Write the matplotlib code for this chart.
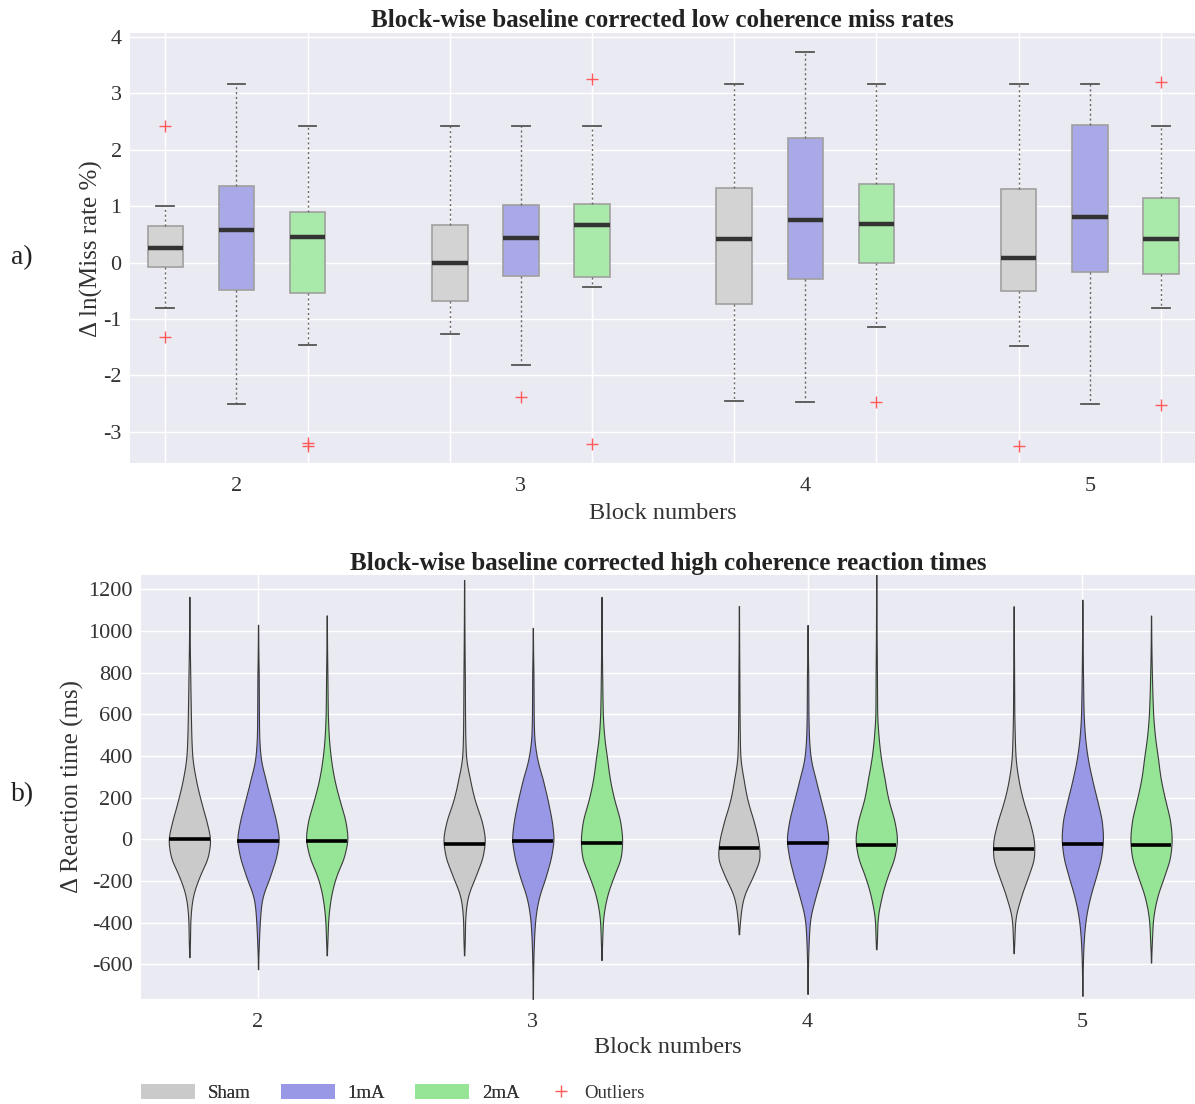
import numpy as np
import matplotlib
matplotlib.use("Agg")
import matplotlib.pyplot as plt
from matplotlib.patches import Patch
from matplotlib.lines import Line2D

plt.rcParams['font.family'] = ['Liberation Serif', 'DejaVu Serif']
plt.rcParams['axes.unicode_minus'] = False

# ---------------------------------------------------------------- data
blocks = [2, 3, 4, 5]
conditions = ["Sham", "1mA", "2mA"]

# a) low-coherence miss rates: box statistics per condition, blocks 2..5
miss_whislo = {"Sham": [-0.81, -1.27, -2.45, -1.48],
               "1mA": [-2.51, -1.82, -2.48, -2.51],
               "2mA": [-1.46, -0.44, -1.14, -0.81]}
miss_q1 = {"Sham": [-0.07, -0.69, -0.74, -0.50],
           "1mA": [-0.48, -0.24, -0.30, -0.17],
           "2mA": [-0.54, -0.25, 0.00, -0.20]}
miss_med = {"Sham": [0.25, -0.01, 0.41, 0.08],
            "1mA": [0.57, 0.43, 0.76, 0.81],
            "2mA": [0.45, 0.67, 0.69, 0.42]}
miss_q3 = {"Sham": [0.65, 0.66, 1.33, 1.31],
           "1mA": [1.36, 1.02, 2.21, 2.44],
           "2mA": [0.89, 1.04, 1.40, 1.15]}
miss_whishi = {"Sham": [1.00, 2.43, 3.17, 3.17],
               "1mA": [3.17, 2.43, 3.74, 3.17],
               "2mA": [2.43, 2.43, 3.17, 2.43]}
miss_outliers = {"Sham": [[2.43, -1.32], [], [], [-3.25]],
                 "1mA": [[], [-2.39], [], []],
                 "2mA": [[-3.20, -3.26], [3.25, -3.21], [-2.48], [3.21, -2.52]]}

# b) high-coherence reaction times: density profile (relative width) at fixed levels
rt_levels = [-500, -400, -300, -200, -100, 0, 100, 200, 300, 400, 500, 600, 800]
rt_width = {
    "Sham": [
        [0.03, 0.04, 0.12, 0.40, 0.85, 1.00, 0.77, 0.50, 0.28, 0.13, 0.09, 0.07, 0.04],
        [0.03, 0.04, 0.12, 0.45, 0.82, 0.97, 0.78, 0.45, 0.25, 0.08, 0.05, 0.04, 0.03],
        [0.00, 0.05, 0.16, 0.56, 0.96, 0.88, 0.64, 0.36, 0.20, 0.06, 0.04, 0.03, 0.02],
        [0.03, 0.06, 0.28, 0.60, 0.94, 0.94, 0.70, 0.40, 0.20, 0.08, 0.05, 0.03, 0.02]],
    "1mA": [
        [0.04, 0.08, 0.16, 0.50, 0.82, 1.00, 0.82, 0.57, 0.33, 0.11, 0.05, 0.04, 0.03],
        [0.05, 0.10, 0.24, 0.56, 0.84, 1.00, 0.88, 0.68, 0.45, 0.18, 0.06, 0.04, 0.03],
        [0.05, 0.10, 0.32, 0.60, 0.85, 1.00, 0.85, 0.60, 0.36, 0.13, 0.06, 0.04, 0.03],
        [0.06, 0.14, 0.32, 0.60, 0.88, 1.00, 0.92, 0.68, 0.44, 0.24, 0.12, 0.06, 0.03]],
    "2mA": [
        [0.03, 0.06, 0.16, 0.37, 0.78, 1.00, 0.86, 0.57, 0.33, 0.18, 0.09, 0.05, 0.03],
        [0.03, 0.06, 0.20, 0.50, 0.90, 0.98, 0.86, 0.57, 0.37, 0.25, 0.12, 0.06, 0.03],
        [0.03, 0.05, 0.20, 0.45, 0.82, 0.98, 0.82, 0.53, 0.37, 0.20, 0.10, 0.04, 0.03],
        [0.04, 0.08, 0.24, 0.56, 0.90, 1.00, 0.90, 0.65, 0.44, 0.32, 0.18, 0.10, 0.04]],
}
rt_min = {"Sham": [-566, -557, -456, -547],
          "1mA": [-624, -767, -743, -752],
          "2mA": [-557, -580, -528, -592]}
rt_max = {"Sham": [1165, 1245, 1120, 1120],
          "1mA": [1030, 1015, 1030, 1150],
          "2mA": [1075, 1165, 1270, 1075]}
rt_median = {"Sham": [0, -21, -43, -48],
             "1mA": [-8, -7, -16, -24],
             "2mA": [-8, -19, -29, -26]}

# ---------------------------------------------------------------- styling
offsets = {"Sham": -0.25, "1mA": 0.0, "2mA": 0.25}
box_face = {"Sham": "#d3d3d3", "1mA": "#a9a9e8", "2mA": "#a9e9a9"}
vio_face = {"Sham": "#cacaca", "1mA": "#9898e6", "2mA": "#96e496"}
bg = "#eaeaf2"
text_col = "#333333"

fig = plt.figure(figsize=(11.95, 11.04), dpi=100)
ax1 = fig.add_axes([0.1088, 0.5803, 0.8912, 0.3898])
ax2 = fig.add_axes([0.1180, 0.0951, 0.8820, 0.3841])

for ax in (ax1, ax2):
    ax.set_facecolor(bg)
    for s in ax.spines.values():
        s.set_visible(False)
    ax.tick_params(length=0, labelsize=16, colors=text_col)
    ax.set_axisbelow(True)

# ---------------------------------------------------------------- a) boxplots
all_pos = []
for cond in conditions:
    stats = []
    pos = []
    for i, b in enumerate(blocks):
        stats.append(dict(whislo=miss_whislo[cond][i], q1=miss_q1[cond][i],
                          med=miss_med[cond][i], q3=miss_q3[cond][i],
                          whishi=miss_whishi[cond][i],
                          fliers=np.array(miss_outliers[cond][i])))
        pos.append(b + offsets[cond])
    all_pos += pos
    ax1.bxp(stats, positions=pos, widths=0.125, capwidths=0.0625,
            patch_artist=True, manage_ticks=False,
            boxprops=dict(facecolor=box_face[cond], edgecolor="#a0a0a0", linewidth=1.2),
            whiskerprops=dict(color="#666666", linewidth=1.0, linestyle=(0, (1.5, 2.0))),
            capprops=dict(color="#555555", linewidth=1.3),
            medianprops=dict(color="#333333", linewidth=3.2, solid_capstyle="butt"),
            flierprops=dict(marker="+", markeredgecolor="#ff5a5a", markersize=8,
                            markeredgewidth=1.0, linestyle="none"))

ax1.set_xlim(1.626, 5.37)
ax1.set_ylim(-3.56, 4.07)
ax1.set_xticks(blocks)
ax1.set_xticks(sorted(all_pos), minor=True)
ax1.tick_params(axis="x", which="both", length=0, pad=10)
ax1.tick_params(axis="y", pad=6)
ax1.set_yticks([-3, -2, -1, 0, 1, 2, 3, 4])
ax1.grid(axis="y", color="white", linewidth=1.0)
ax1.xaxis.grid(True, which="minor", color="white", linewidth=1.0)
ax1.xaxis.grid(False, which="major")
ax1.set_title("Block-wise baseline corrected low coherence miss rates",
              fontsize=18, fontweight="bold", color="#222222", pad=4)
ax1.set_xlabel("Block numbers", fontsize=17.5, color=text_col, labelpad=5)
ax1.set_ylabel("\u0394 ln(Miss rate %)", fontsize=18, color=text_col, labelpad=0)

# ---------------------------------------------------------------- b) violins
vio_width = 0.15


def profile(levels, widths, lo, hi):
    lev = np.asarray(levels, float)
    wid = np.asarray(widths, float)
    keep = (lev > lo) & (lev < hi) & (wid > 0)
    coords = np.concatenate([[lo], lev[keep], [hi]])
    vals = np.concatenate([[0.006], wid[keep], [0.006]])
    y = np.arange(lo, hi + 1.0, 2.0)
    w = np.exp(np.interp(y, coords, np.log(vals)))
    k = np.arange(-40, 41)
    kern = np.exp(-0.5 * (k / 14.0) ** 2)
    kern /= kern.sum()
    w = np.convolve(np.pad(w, 40, mode="edge"), kern, mode="valid")
    w = w / w.max()
    return y, w


for cond in conditions:
    for i, b in enumerate(blocks):
        p = b + offsets[cond]
        y, w = profile(rt_levels, rt_width[cond][i], rt_min[cond][i], rt_max[cond][i])
        half = w * vio_width / 2
        ax2.fill_betweenx(y, p - half, p + half, facecolor=vio_face[cond],
                          edgecolor="#3a3a3a", linewidth=0.8, zorder=2)
        m = rt_median[cond][i]
        hm = np.interp(m, y, half)
        ax2.plot([p - hm, p + hm], [m, m], color="black", linewidth=2.6,
                 solid_capstyle="butt", zorder=3)

ax2.set_xlim(1.574, 5.41)
ax2.set_ylim(-767, 1269)
ax2.set_xticks(blocks)
ax2.set_yticks(np.arange(-600, 1201, 200))
ax2.tick_params(axis="x", pad=10)
ax2.tick_params(axis="y", pad=6)
ax2.grid(color="white", linewidth=1.0)
ax2.set_title("Block-wise baseline corrected high coherence reaction times",
              fontsize=18, fontweight="bold", color="#222222", pad=3)
ax2.set_xlabel("Block numbers", fontsize=17.5, color=text_col, labelpad=4)
ax2.set_ylabel("\u0394 Reaction time (ms)", fontsize=18, color=text_col, labelpad=3)

# panel letters
fig.text(11 / 1195, 1 - 258 / 1104, "a)", fontsize=20, ha="left", va="center", color="#222222")
fig.text(11 / 1195, 1 - 795 / 1104, "b)", fontsize=20, ha="left", va="center", color="#222222")

# shared legend: condition patches, then the outlier marker
leg_y = 1 - 1093 / 1104
handles = [Patch(facecolor=vio_face[c], edgecolor="none") for c in conditions]
leg1 = fig.legend(handles, conditions, loc="center left",
                  bbox_to_anchor=(141 / 1195, leg_y), ncol=3, frameon=False,
                  fontsize=13.5, handlelength=2.88, handleheight=0.85,
                  columnspacing=1.6, handletextpad=0.69, borderpad=0,
                  borderaxespad=0, labelcolor=text_col)
out_handle = Line2D([], [], marker="+", linestyle="none", markeredgecolor="#ff5a5a",
                    markersize=9, markeredgewidth=1.0)
fig.legend([out_handle], ["Outliers"], loc="center left",
           bbox_to_anchor=(552 / 1195, leg_y), frameon=False, fontsize=13.5,
           handlelength=1.0, handletextpad=0.7, borderpad=0, borderaxespad=0,
           labelcolor=text_col)
fig.add_artist(leg1)

fig.savefig("out.png", dpi=100, facecolor="white")
